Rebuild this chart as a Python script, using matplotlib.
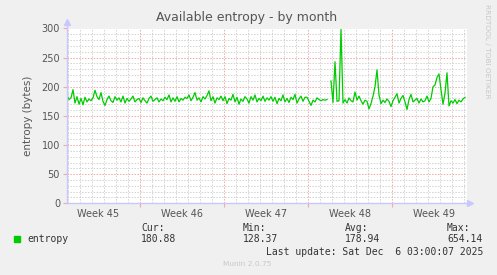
import numpy as np
import matplotlib.pyplot as plt

# samples every 4 hours, first one 22 h into week 45 (days since Monday of week 45)
t_start = 11 / 12
t_step = 1 / 6
entropy = [
    185, 178, 181, 195, 172, 183, 170, 180, 169, 182,
    174, 179, 176, 181, 194, 183, 178, 190, 175, 168,
    178, 184, 176, 173, 183, 177, 181, 174, 184, 172,
    180, 175, 179, 184, 174, 178, 180, 173, 181, 176,
    172, 180, 184, 175, 178, 181, 174, 179, 176, 182,
    178, 186, 174, 181, 175, 183, 174, 180, 177, 182,
    180, 186, 176, 182, 190, 177, 181, 174, 183, 179,
    185, 193, 176, 183, 172, 181, 178, 184, 176, 183,
    171, 180, 177, 187, 174, 182, 170, 179, 175, 183,
    179, 172, 183, 177, 186, 174, 180, 176, 184, 175,
    181, 177, 183, 175, 182, 171, 180, 176, 186, 174,
    180, 173, 182, 178, 187, 172, 179, 184, 175, 182,
    182, 175, 168, 177, 174, 181, 178, 176, 178, 177,
    178, np.nan, 210, 173, 243, 175, 176, 299, 172, 178,
    172, 181, 176, 174, 191, 177, 184, 176, 170, 177,
    175, 162, 171, 184, 200, 229, 186, 171, 177, 173,
    179, 175, 166, 176, 182, 188, 172, 180, 185, 174,
    161, 178, 187, 174, 177, 180, 172, 179, 174, 176,
    184, 174, 180, 200, 203, 216, 222, 195, 170, 189,
    224, 167, 176, 172, 178, 171, 177, 174, 179, 182,
]
weeks = ["Week 45", "Week 46", "Week 47", "Week 48", "Week 49"]
stat_names = ["Cur:", "Min:", "Avg:", "Max:"]
stat_values = ["180.88", "128.37", "178.94", "654.14"]

bg = "#f0f0f0"
axis_col = "#c8c8ff"
minor_col = "#d2d2d2"
major_col = "#f0a8a8"
txt = "#555555"

fig = plt.figure(figsize=(4.97, 2.75), dpi=100, facecolor=bg)
ax = fig.add_axes([67 / 497, 1 - 203.3 / 275, 400 / 497, 174.8 / 275])
ax.set_facecolor("white")

t = t_start + t_step * np.arange(len(entropy))
x_end = t_start + 400 / 12

# grid
for d in np.arange(1, 35):
    col = major_col if d % 7 == 0 else minor_col
    ax.axvline(d, color=col, lw=0.7, ls=(0, (1.5, 1.5)), zorder=1)
for v in np.arange(10, 301, 10):
    col = major_col if v % 50 == 0 else minor_col
    ax.axhline(v, color=col, lw=0.7, ls=(0, (1.5, 1.5)), zorder=1)

ax.plot(t, entropy, color="#00cc00", lw=0.9, zorder=3)

ax.set_xlim(t_start, x_end)
ax.set_ylim(0, 300)
for s in ["top", "right"]:
    ax.spines[s].set_visible(False)
for s in ["left", "bottom"]:
    ax.spines[s].set_color(axis_col)
    ax.spines[s].set_linewidth(1)
    ax.spines[s].set_zorder(4)

# arrows on axes
ax.plot([0], [1.04], marker="^", color=axis_col, ms=4, transform=ax.transAxes, clip_on=False)
ax.plot([1.008], [0], marker=">", color=axis_col, ms=4, transform=ax.transAxes, clip_on=False)
ax.plot([0, 0], [1, 1.03], color=axis_col, lw=1, transform=ax.transAxes, clip_on=False)

ax.set_yticks(np.arange(0, 301, 50))
ax.tick_params(axis="y", length=3, width=0.8, color=major_col, labelsize=7, labelcolor=txt, pad=2)
ax.set_xticks([7, 14, 21, 28])
ax.set_xticklabels([])
ax.tick_params(axis="x", length=3, width=0.8, color=major_col)
for i, w in enumerate(weeks):
    ax.text(3.5 + 7 * i, -0.035, w, transform=ax.get_xaxis_transform(),
            ha="center", va="top", fontsize=7, color=txt)

ax.set_ylabel("entropy (bytes)", fontsize=7.5, color=txt, labelpad=6)
fig.text(0.497, 0.935, "Available entropy - by month", ha="center", va="center",
         fontsize=9, color=txt)
fig.text(0.98, 0.985, "RRDTOOL / TOBI OETIKER", rotation=270, ha="center", va="top",
         fontsize=5.3, color="#c8c8c8")

# legend
mono = "DejaVu Sans Mono"
fig.patches.append(plt.Rectangle((14 / 497, 1 - 242 / 275), 6 / 497, 6 / 275,
                                 transform=fig.transFigure, color="#00cc00"))
fig.text(27 / 497, 1 - 239.5 / 275, "entropy", family=mono, fontsize=7, color="#333333", va="center")
for i, (n, v) in enumerate(zip(stat_names, stat_values)):
    x = (141 + 102 * i) / 497
    fig.text(x, 1 - 228 / 275, n, family=mono, fontsize=7, color="#333333", va="center")
    fig.text(x, 1 - 239.5 / 275, v, family=mono, fontsize=7, color="#333333", va="center")
fig.text(483 / 497, 1 - 252 / 275, "Last update: Sat Dec  6 03:00:07 2025", family=mono,
         fontsize=7, color="#333333", va="center", ha="right")
fig.text(0.497, 1 - 264 / 275, "Munin 2.0.75", fontsize=5.3, color="#c8c8c8",
         ha="center", va="center")

fig.savefig("out.png", dpi=100, facecolor=bg)
